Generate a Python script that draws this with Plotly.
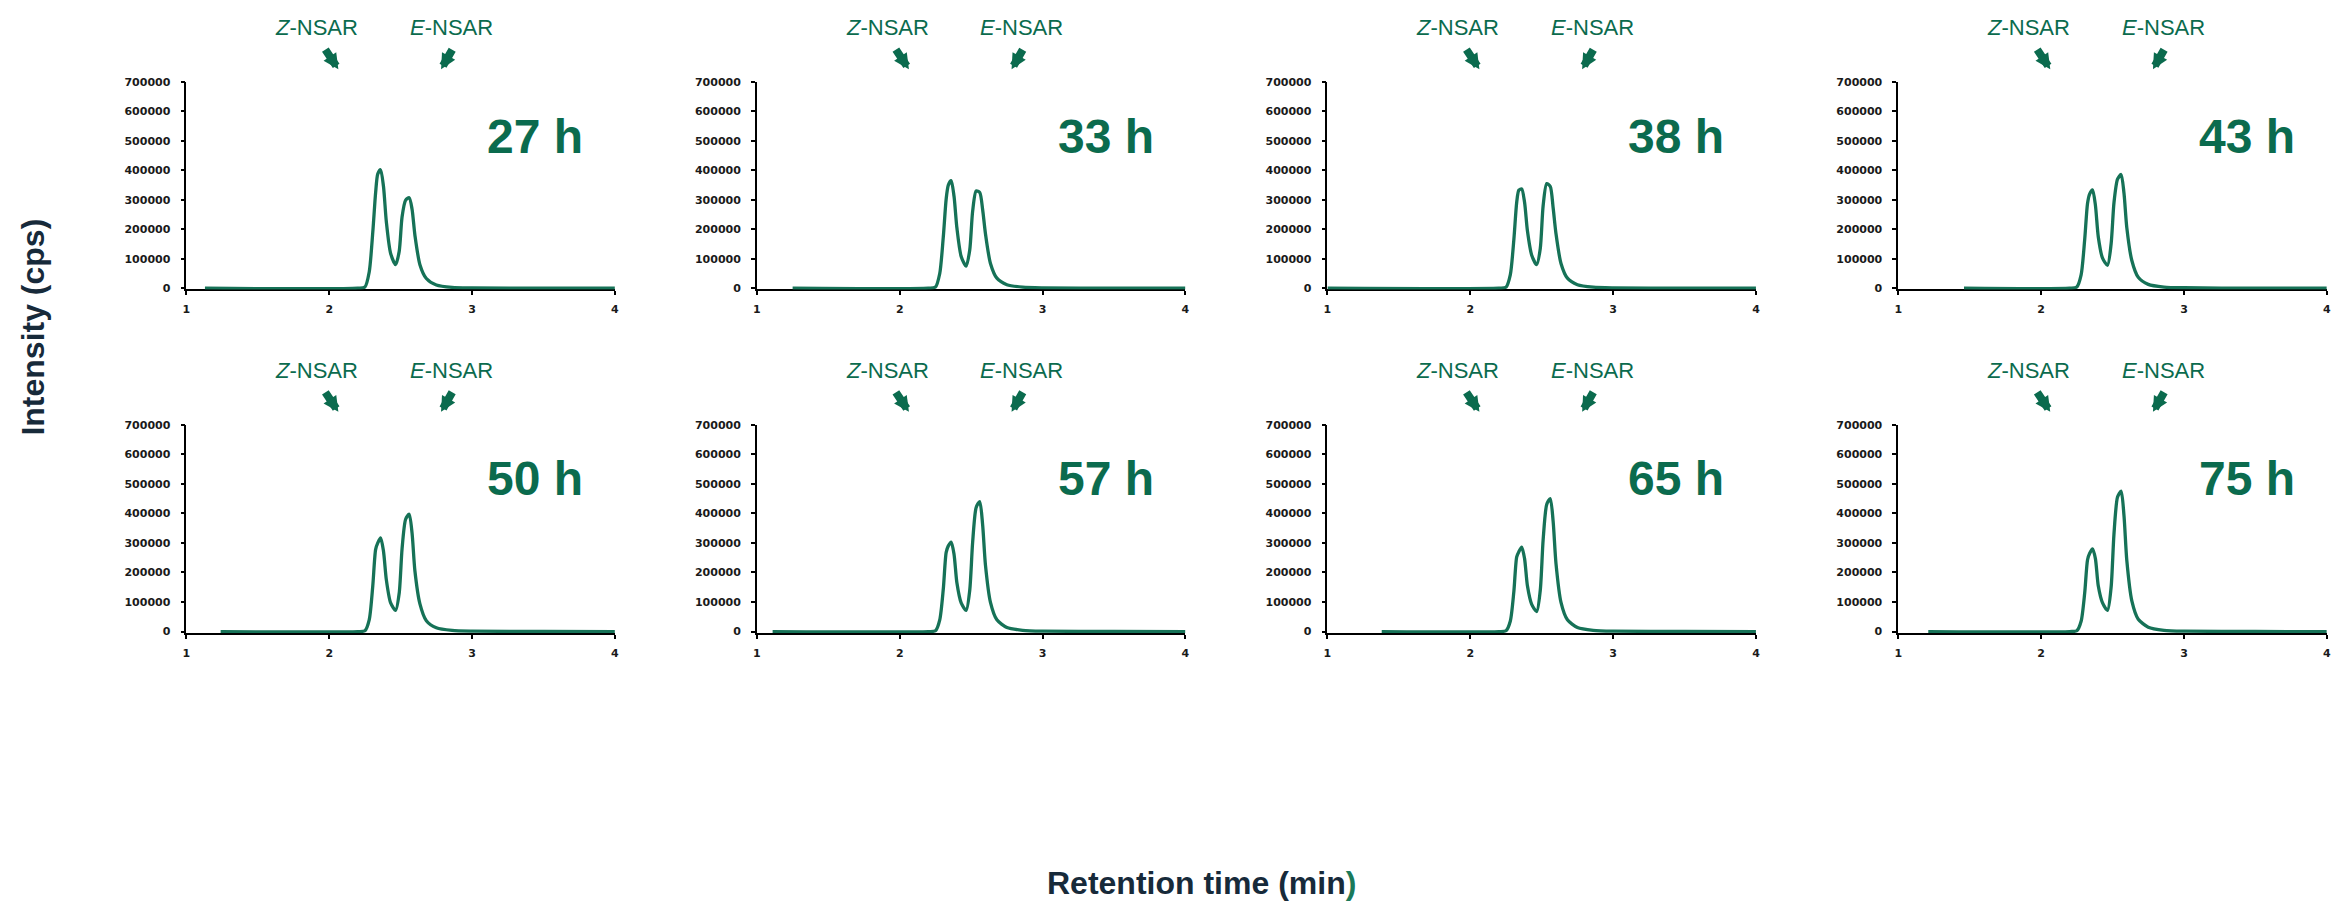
import plotly.graph_objects as go

W, H = 2332, 906
GREEN = "#0b6b4e"
LINE = "#167257"
DARK = "#172A3A"

hours = ["27 h", "33 h", "38 h", "43 h", "50 h", "57 h", "65 h", "75 h"]
trace_start = [1.13, 1.25, 1.00, 1.46, 1.24, 1.11, 1.38, 1.21]

rt = [2.20, 2.25, 2.28, 2.305, 2.325, 2.34, 2.36, 2.38, 2.40, 2.43, 2.465, 2.49,
      2.51, 2.535, 2.56, 2.58, 2.60, 2.635, 2.68, 2.75, 2.86, 3.00, 3.50, 4.00]

i27 = [0, 4000, 55000, 190000, 325000, 388000, 402000, 345000, 225000, 118000, 80000, 125000,
       242000, 299000, 307000, 268000, 180000, 80000, 33000, 11000, 3000, 1200, 300, 0]
i33 = [0, 4000, 50000, 175000, 303000, 350000, 365000, 312000, 205000, 108000, 75000, 130000,
       260000, 330000, 325000, 268000, 185000, 84000, 34000, 12000, 3500, 1200, 300, 0]
i38 = [0, 3000, 45000, 165000, 292000, 333000, 337000, 292000, 195000, 112000, 80000, 135000,
       280000, 355000, 345000, 273000, 185000, 84000, 34000, 12000, 3500, 1200, 300, 0]
i43 = [0, 4000, 45000, 165000, 288000, 320000, 334000, 282000, 175000, 102000, 78000, 150000,
       290000, 370000, 386000, 323000, 205000, 94000, 37000, 13000, 4000, 1500, 300, 0]
i50 = [0, 3000, 40000, 155000, 278000, 300000, 317000, 272000, 175000, 97000, 72000, 130000,
       280000, 380000, 397000, 333000, 205000, 94000, 37000, 13000, 4000, 1500, 300, 0]
i57 = [0, 3000, 40000, 145000, 268000, 290000, 303000, 262000, 165000, 97000, 72000, 140000,
       300000, 420000, 440000, 363000, 225000, 99000, 40000, 14000, 4500, 1500, 300, 0]
i65 = [0, 3000, 35000, 135000, 253000, 270000, 286000, 247000, 155000, 92000, 68000, 140000,
       310000, 430000, 450000, 373000, 230000, 99000, 40000, 14000, 4500, 1500, 300, 0]
i75 = [0, 3000, 35000, 130000, 243000, 265000, 280000, 247000, 155000, 97000, 72000, 150000,
       330000, 455000, 475000, 393000, 240000, 104000, 42000, 15000, 4500, 1500, 300, 0]

intensities = [i27, i33, i38, i43, i50, i57, i65, i75]

y_ticks = [0, 100000, 200000, 300000, 400000, 500000, 600000, 700000]
x_ticks = [1, 2, 3, 4]

# layout geometry (pixels)
col_left = [183.0, 755.5, 1328.0, 1900.8]
panel_w = 430.0
row_top = [77.0, 424.3]      # pixel of 700000
row_zero = [286.0, 634.0]    # pixel of 0
pad_px = 1.3

fig = go.Figure()
annotations = []

for k in range(8):
    r, c = divmod(k, 4)
    ax_id = "" if k == 0 else str(k + 1)
    xa = "xaxis" + ax_id
    ya = "yaxis" + ax_id
    top, zero = row_top[r], row_zero[r]
    pxper = (zero - top) / 700000.0
    ymin = -pad_px / pxper
    x0 = col_left[c] / W
    x1 = min((col_left[c] + panel_w) / W, 1.0)
    yb = 1 - (zero + pad_px) / H
    yt = 1 - top / H

    fig.add_trace(go.Scatter(
        x=[trace_start[k]] + rt, y=[0] + intensities[k],
        mode="lines", line=dict(color=LINE, width=3.3, shape="spline", smoothing=0.7),
        xaxis="x" + ax_id, yaxis="y" + ax_id, showlegend=False, hoverinfo="skip"))

    tickfont = dict(family="DejaVu Sans", size=11, color="#1a1a1a", weight="bold")
    fig.layout[xa] = dict(
        domain=[x0, x1], range=[1, 4], anchor="y" + ax_id,
        showgrid=False, zeroline=False, showline=True, linecolor="black", linewidth=1.6,
        layer="below traces", ticks="outside", ticklen=4, tickwidth=1.5, tickcolor="black",
        tickvals=x_ticks, ticktext=[str(v) for v in x_ticks], tickfont=tickfont,
        ticklabelstandoff=5, ticklabeloverflow="allow", fixedrange=True)
    fig.layout[ya] = dict(
        domain=[yb, yt], range=[ymin, 700000], anchor="x" + ax_id,
        showgrid=False, zeroline=False, showline=True, linecolor="black", linewidth=1.6,
        layer="below traces", ticks="outside", ticklen=4, tickwidth=1.5, tickcolor="black",
        tickvals=y_ticks, ticktext=[str(v) for v in y_ticks], tickfont=tickfont,
        ticklabelstandoff=8, fixedrange=True)

    xref = "x" + ax_id
    lab_y = 1 - (top - 55) / H
    tip_y = 1 - (top - 13) / H
    hr_y = 1 - (top + 55) / H
    arrow_style = dict(showarrow=True, arrowhead=2, arrowwidth=8, arrowsize=0.38,
                       arrowcolor=GREEN, standoff=0, text="")
    annotations += [
        dict(x=1.912, y=lab_y, xref=xref, yref="paper", text="<i>Z</i>-NSAR", showarrow=False,
             font=dict(family="Liberation Sans", size=22, color=GREEN), xanchor="center", yanchor="middle"),
        dict(x=2.855, y=lab_y, xref=xref, yref="paper", text="<i>E</i>-NSAR", showarrow=False,
             font=dict(family="Liberation Sans", size=22, color=GREEN), xanchor="center", yanchor="middle"),
        dict(x=3.442, y=hr_y, xref=xref, yref="paper", text="<b>" + hours[k] + "</b>", showarrow=False,
             font=dict(family="Liberation Sans", size=48, color=GREEN), xanchor="center", yanchor="middle"),
        dict(x=2.064, y=tip_y, xref=xref, yref="paper", ax=-14, ay=-21, **arrow_style),
        dict(x=2.783, y=tip_y, xref=xref, yref="paper", ax=12, ay=-21, **arrow_style),
    ]

annotations += [
    dict(x=29 / W, y=1 - 325 / H, xref="paper", yref="paper", text="<b>Intensity (cps)</b>",
         textangle=-90, showarrow=False, font=dict(family="Liberation Sans", size=32, color=DARK),
         xanchor="center", yanchor="middle"),
    dict(x=1202 / W, y=1 - 889 / H, xref="paper", yref="paper",
         text="<b>Retention time (min<span style='color:#1a7a5a'>)</span></b>",
         showarrow=False, font=dict(family="Liberation Sans", size=32, color=DARK),
         xanchor="center", yanchor="middle"),
]

fig.update_layout(width=W, height=H, margin=dict(l=0, r=0, t=0, b=0),
                  paper_bgcolor="white", plot_bgcolor="white", annotations=annotations,
                  showlegend=False)

fig.write_html("out.html", config={"displayModeBar": False})
